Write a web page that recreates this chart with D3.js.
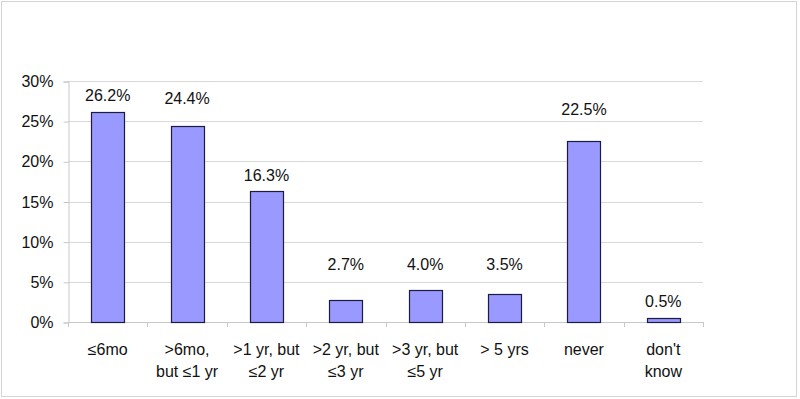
<!DOCTYPE html>
<html>
<head>
<meta charset="utf-8">
<script src="https://cdn.jsdelivr.net/npm/d3@7"></script>
<style>
  body { margin: 0; background: #fff; }
  svg { display: block; font-family: "Liberation Sans", Arial, sans-serif; }
</style>
</head>
<body>
<div id="chart"></div>
<script>
// data
var categories = ["≤6mo", ">6mo, but ≤1 yr", ">1 yr, but ≤2 yr", ">2 yr, but ≤3 yr",
                  ">3 yr, but ≤5 yr", "> 5 yrs", "never", "don't know"];
var categoryLines = [["≤6mo"], [">6mo,", "but ≤1 yr"], [">1 yr, but", "≤2 yr"], [">2 yr, but", "≤3 yr"],
                     [">3 yr, but", "≤5 yr"], ["> 5 yrs"], ["never"], ["don't", "know"]];
var values = [0.262, 0.244, 0.163, 0.027, 0.040, 0.035, 0.225, 0.005];
var yTicks = [0, 0.05, 0.10, 0.15, 0.20, 0.25, 0.30];

var w = 800, h = 399;
var plotLeft = 68, plotRight = 703, plotTop = 81, plotBottom = 322;

var svg = d3.select("#chart")
            .append("svg")
            .attr("width", w)
            .attr("height", h);

// outer chart border
svg.append("rect")
   .attr("x", 1.5).attr("y", 1.5)
   .attr("width", 795).attr("height", 395)
   .attr("fill", "#fff")
   .attr("stroke", "#d4d4d4");

var yScale = d3.scaleLinear().domain([0, 0.30]).range([plotBottom, plotTop]);

var xScale = d3.scaleBand()
               .domain(categories)
               .range([plotLeft, plotRight])
               .paddingInner(0.584)
               .paddingOuter(0.292);

var xCat = d3.scaleBand().domain(categories).range([plotLeft, plotRight]);

// gridlines
svg.selectAll("line.grid")
   .data(yTicks.slice(1))
   .enter()
   .append("line")
   .attr("class", "grid")
   .attr("x1", plotLeft).attr("x2", plotRight)
   .attr("y1", function(d) { return Math.round(yScale(d)) + 0.5; })
   .attr("y2", function(d) { return Math.round(yScale(d)) + 0.5; })
   .attr("stroke", "#d9d9d9");

// y axis
var yAxis = svg.append("g")
   .attr("transform", "translate(" + (plotLeft + 0.5) + ",0.5)")
   .call(d3.axisLeft(yScale).tickValues(yTicks).tickFormat(d3.format(".0%")).tickSize(5).tickPadding(10));
yAxis.select(".domain").attr("stroke", "#c8c8c8");
yAxis.selectAll(".tick line").attr("stroke", "#c8c8c8");
yAxis.selectAll("text")
     .attr("font-size", "16px")
     .attr("fill", "#111")
     .attr("font-family", "Liberation Sans, Arial, sans-serif");

// x axis line and boundary ticks
svg.append("line")
   .attr("x1", plotLeft).attr("x2", plotRight)
   .attr("y1", plotBottom + 0.5).attr("y2", plotBottom + 0.5)
   .attr("stroke", "#c8c8c8");

svg.selectAll("line.xtick")
   .data(categories.concat(["end"]))
   .enter()
   .append("line")
   .attr("class", "xtick")
   .attr("x1", function(d) { return Math.round(d === "end" ? plotRight : xCat(d)) + 0.5; })
   .attr("x2", function(d) { return Math.round(d === "end" ? plotRight : xCat(d)) + 0.5; })
   .attr("y1", plotBottom).attr("y2", plotBottom + 5)
   .attr("stroke", "#c8c8c8");

// bars
svg.selectAll("rect.bar")
   .data(values)
   .enter()
   .append("rect")
   .attr("class", "bar")
   .attr("x", function(d, i) { return Math.round(xScale(categories[i])) + 0.5; })
   .attr("y", function(d) { return Math.round(yScale(d)) + 0.5; })
   .attr("width", Math.round(xScale.bandwidth()))
   .attr("height", function(d) { return plotBottom - Math.round(yScale(d)); })
   .attr("fill", "#9999ff")
   .attr("stroke", "#1c1c40")
   .attr("stroke-width", 1.2);

// value labels (some were moved up by hand in the original)
var labelLift = [0, 11.5, 0, 19.8, 9.4, 13.4, 15.5, 0];

svg.selectAll("text.val")
   .data(values)
   .enter()
   .append("text")
   .attr("class", "val")
   .text(function(d) { return (d * 100).toFixed(1) + "%"; })
   .attr("x", function(d, i) { return xScale(categories[i]) + xScale.bandwidth() / 2; })
   .attr("y", function(d, i) { return yScale(d) - 10.5 - labelLift[i]; })
   .attr("text-anchor", "middle")
   .attr("font-size", "16px")
   .attr("fill", "#111");

// category labels
var cat = svg.selectAll("text.cat")
   .data(categoryLines)
   .enter()
   .append("text")
   .attr("class", "cat")
   .attr("text-anchor", "middle")
   .attr("font-size", "16px")
   .attr("fill", "#111");

cat.selectAll("tspan")
   .data(function(d, i) { return d.map(function(line) { return { line: line, i: i }; }); })
   .enter()
   .append("tspan")
   .attr("x", function(d) { return xCat(categories[d.i]) + xCat.bandwidth() / 2; })
   .attr("y", function(d, j) { return 355 + j * 22; })
   .text(function(d) { return d.line; });
</script>
</body>
</html>
